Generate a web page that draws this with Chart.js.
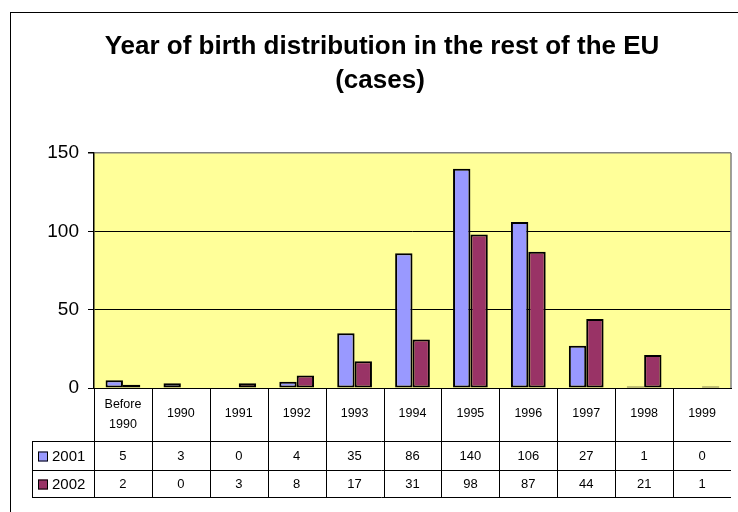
<!DOCTYPE html>
<html>
<head>
<meta charset="utf-8">
<script src="https://cdn.jsdelivr.net/npm/chart.js@4/dist/chart.umd.min.js"></script>
<style>
  html, body { margin: 0; padding: 0; background: #fff; }
  #wrap { width: 738px; height: 512px; }
</style>
</head>
<body>
<div id="wrap"><canvas id="chart" width="738" height="512"></canvas></div>
<script>
// data
const categories = [['Before', '1990'], '1990', '1991', '1992', '1993', '1994', '1995', '1996', '1997', '1998', '1999'];
const seriesNames = ['2001', '2002'];
const values2001 = [5, 3, 0, 4, 35, 86, 140, 106, 27, 1, 0];
const values2002 = [2, 0, 3, 8, 17, 31, 98, 87, 44, 21, 1];
const yTicks = [0, 50, 100, 150];
const titleLines = ['Year of birth distribution in the rest of the EU', '(cases)'];

const FONT = 'Arial, "Liberation Sans", sans-serif';
const colors = ['#9999FF', '#993366'];

// background, outer frame and title
const framePlugin = {
  id: 'frame',
  beforeDraw(chart) {
    const { ctx, chartArea: a } = chart;
    ctx.save();
    ctx.fillStyle = '#fff';
    ctx.fillRect(0, 0, chart.width, chart.height);
    ctx.fillStyle = '#FFFF99';
    ctx.fillRect(a.left, a.top, a.right - a.left, a.bottom - a.top);
    ctx.strokeStyle = '#000';
    ctx.lineWidth = 1;
    ctx.strokeRect(10.5, 12.5, 900, 700);
    ctx.fillStyle = '#000';
    ctx.font = 'bold 26px ' + FONT;
    ctx.textAlign = 'center';
    ctx.textBaseline = 'alphabetic';
    ctx.fillText(titleLines[0], 382, 54);
    ctx.fillText(titleLines[1], 380, 88);
    ctx.restore();
  },
  afterDatasetsDraw(chart) {
    const { ctx, chartArea: a } = chart;
    ctx.save();
    ctx.strokeStyle = '#808080';
    ctx.lineWidth = 1.5;
    ctx.beginPath();
    ctx.moveTo(a.right, a.top);
    ctx.lineTo(a.right, a.bottom);
    ctx.stroke();
    ctx.restore();
  }
};

// data table below the plot
const tablePlugin = {
  id: 'dataTable',
  afterDraw(chart) {
    const { ctx, chartArea: a } = chart;
    const xs = chart.scales.x;
    const n = categories.length;
    const w = (a.right - a.left) / n;
    const top = a.bottom;
    const r1 = 441, r2 = 470, r3 = 497;
    const legendLeft = 32;

    ctx.save();
    ctx.strokeStyle = '#000';
    ctx.lineWidth = 1;
    ctx.beginPath();
    for (let i = 0; i < n; i++) {
      const x = Math.round(a.left + i * w) + 0.5;
      ctx.moveTo(x, top);
      ctx.lineTo(x, r3);
    }
    ctx.moveTo(legendLeft + 0.5, r1);
    ctx.lineTo(legendLeft + 0.5, r3);
    [r1, r2, r3].forEach(y => {
      ctx.moveTo(legendLeft, y + 0.5);
      ctx.lineTo(a.right, y + 0.5);
    });
    ctx.stroke();

    ctx.fillStyle = '#000';
    ctx.textAlign = 'center';
    ctx.textBaseline = 'middle';
    ctx.font = '12.5px ' + FONT;
    categories.forEach((c, i) => {
      const cx = xs.getPixelForValue(i);
      if (Array.isArray(c)) {
        ctx.fillText(c[0], cx, top + 17);
        ctx.fillText(c[1], cx, top + 37);
      } else {
        ctx.fillText(c, cx, top + 26);
      }
    });

    ctx.font = '13px ' + FONT;
    [values2001, values2002].forEach((vals, s) => {
      const cy = s === 0 ? (r1 + r2) / 2 + 1 : (r2 + r3) / 2 + 1;
      vals.forEach((v, i) => ctx.fillText(String(v), xs.getPixelForValue(i), cy));
      // legend key
      ctx.fillStyle = colors[s];
      ctx.fillRect(38, cy - 5, 10, 10);
      ctx.strokeRect(38.5, cy - 4.5, 9, 9);
      ctx.fillStyle = '#000';
      ctx.textAlign = 'left';
      ctx.font = '15px ' + FONT;
      ctx.fillText(seriesNames[s], 52, cy);
      ctx.textAlign = 'center';
      ctx.font = '13px ' + FONT;
    });
    ctx.restore();
  }
};

new Chart(document.getElementById('chart'), {
  type: 'bar',
  data: {
    labels: categories,
    datasets: [
      { label: seriesNames[0], data: values2001, backgroundColor: colors[0], borderColor: '#000', borderWidth: 2, borderSkipped: false },
      { label: seriesNames[1], data: values2002, backgroundColor: colors[1], borderColor: '#000', borderWidth: 2, borderSkipped: false }
    ]
  },
  options: {
    responsive: false,
    animation: false,
    layout: { padding: { top: 153, right: 7, left: 0, bottom: 0 } },
    datasets: { bar: { categoryPercentage: 0.6, barPercentage: 1 } },
    plugins: {
      legend: { display: false },
      title: { display: false },
      tooltip: { enabled: false }
    },
    scales: {
      x: {
        ticks: { display: false },
        grid: { display: false },
        border: { color: '#000', width: 1 },
        afterFit(scale) { scale.height = 124; }
      },
      y: {
        min: 0,
        max: 150,
        afterBuildTicks(scale) { scale.ticks = yTicks.map(v => ({ value: v })); },
        ticks: { color: '#000', font: { family: FONT, size: 19 }, padding: 9 },
        grid: {
          color: ctx => (ctx.tick && ctx.tick.value === 150 ? '#808080' : '#000'),
          lineWidth: ctx => (ctx.tick && ctx.tick.value === 150 ? 1.5 : 1),
          tickLength: 6,
          tickColor: '#000'
        },
        border: { color: '#000', width: 1.5 },
        afterFit(scale) { scale.width = 94; }
      }
    }
  },
  plugins: [framePlugin, tablePlugin]
});
</script>
</body>
</html>
